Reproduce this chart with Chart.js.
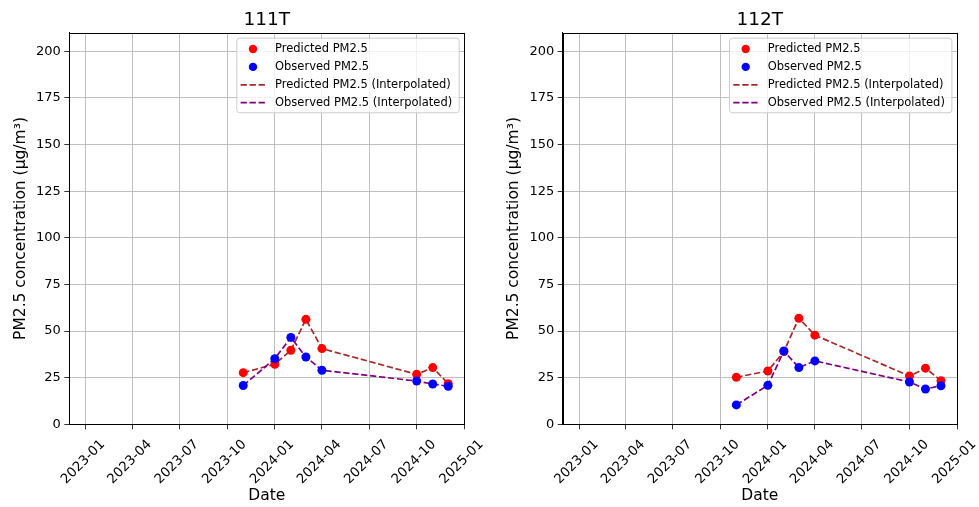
<!DOCTYPE html>
<html>
<head>
<meta charset="utf-8">
<script src="https://cdn.jsdelivr.net/npm/chart.js@4"></script>
<style>
  body { margin: 0; background: #fff; }
  .panel { position: absolute; top: 0; height: 507px; }
</style>
</head>
<body>
<div class="panel" style="left:0;width:490px"><canvas id="chart111"></canvas></div>
<div class="panel" style="left:490px;width:489px"><canvas id="chart112"></canvas></div>
<script>
// sample dates (month starts)
const dates = ['2023-11-01', '2024-01-01', '2024-02-01', '2024-03-01', '2024-04-01', '2024-10-01', '2024-11-01', '2024-12-01']

// 111T
const predicted111 = [27.7, 32.2, 39.7, 56.3, 40.6, 26.8, 30.4, 21.8]
const observed111 = [20.8, 35.2, 46.6, 36.1, 29.0, 23.2, 21.6, 20.4]

// 112T
const predicted112 = [25.2, 28.6, 39.0, 56.9, 47.8, 25.9, 30.1, 23.4]
const observed112 = [10.4, 20.9, 39.3, 30.4, 34.0, 22.7, 18.9, 20.7]

const xTickLabels = ['2023-01', '2023-04', '2023-07', '2023-10', '2024-01', '2024-04', '2024-07', '2024-10', '2025-01']
const yTicks = [0, 25, 50, 75, 100, 125, 150, 175, 200]
const xMinDate = '2022-11-30'
const xMaxDate = '2025-01-01'
const yMax = 210

const FONT = "'DejaVu Sans', sans-serif"

function toPoints(values) {
    return values.map((v, i) => ({ x: Date.parse(dates[i]), y: v }))
}

// draws the top/right spines and a matplotlib-like legend box
const frameAndLegend = {
    id: 'frameAndLegend',
    afterDraw(chart) {
        const { ctx, chartArea: a } = chart
        ctx.save()
        ctx.strokeStyle = '#000'
        ctx.lineWidth = 1
        ctx.strokeRect(Math.round(a.left) + 0.5, Math.round(a.top) + 0.5,
            Math.round(a.right) - Math.round(a.left), Math.round(a.bottom) - Math.round(a.top))

        const sets = chart.data.datasets
        ctx.font = `11.5px ${FONT}`
        const textW = Math.max(...sets.map(d => ctx.measureText(d.label).width))
        const boxW = 38.7 + textW + 6.5
        const boxH = 74.6
        const boxX = a.right - 5.6 - boxW
        const boxY = a.top + 5

        ctx.beginPath()
        ctx.roundRect(boxX + 0.5, boxY + 0.5, boxW, boxH, 3)
        ctx.fillStyle = 'rgba(255,255,255,0.8)'
        ctx.fill()
        ctx.strokeStyle = '#cccccc'
        ctx.stroke()

        sets.forEach((d, i) => {
            const cy = boxY + 11.3 + i * 17.9
            if (d.showLine) {
                ctx.beginPath()
                ctx.setLineDash(d.borderDash)
                ctx.strokeStyle = d.borderColor
                ctx.lineWidth = d.borderWidth
                ctx.moveTo(boxX + 4.3, cy)
                ctx.lineTo(boxX + 29.3, cy)
                ctx.stroke()
                ctx.setLineDash([])
            } else {
                ctx.beginPath()
                ctx.fillStyle = d.backgroundColor
                ctx.arc(boxX + 16.7, cy, 4.2, 0, Math.PI * 2)
                ctx.fill()
            }
            ctx.fillStyle = '#000'
            ctx.textBaseline = 'middle'
            ctx.textAlign = 'left'
            ctx.fillText(d.label, boxX + 38.7, cy)
        })
        ctx.restore()
    }
}

function makeChart(canvasId, title, predicted, observed, yAxisW, padRight, yTitlePad) {
    const ctx = document.getElementById(canvasId).getContext('2d')
    return new Chart(ctx, {
        type: 'scatter',
        data: {
            datasets: [
                {
                    label: 'Predicted PM2.5',
                    data: toPoints(predicted),
                    backgroundColor: 'red',
                    pointRadius: 4.5,
                    pointBorderWidth: 0,
                    showLine: false,
                    order: 1
                },
                {
                    label: 'Observed PM2.5',
                    data: toPoints(observed),
                    backgroundColor: 'blue',
                    pointRadius: 4.5,
                    pointBorderWidth: 0,
                    showLine: false,
                    order: 0
                },
                {
                    label: 'Predicted PM2.5 (Interpolated)',
                    data: toPoints(predicted),
                    borderColor: '#a52a2a',
                    borderWidth: 1.7,
                    borderDash: [6.3, 2.7],
                    pointRadius: 0,
                    showLine: true,
                    order: 3
                },
                {
                    label: 'Observed PM2.5 (Interpolated)',
                    data: toPoints(observed),
                    borderColor: '#800080',
                    borderWidth: 1.7,
                    borderDash: [6.3, 2.7],
                    pointRadius: 0,
                    showLine: true,
                    order: 2
                }
            ]
        },
        options: {
            responsive: true,
            maintainAspectRatio: false,
            animation: false,
            events: [],
            layout: { padding: { left: 0, right: padRight, top: 0, bottom: 0 } },
            plugins: {
                legend: { display: false },
                tooltip: { enabled: false },
                title: {
                    display: true,
                    text: title,
                    fullSize: false,
                    color: '#000',
                    font: { family: FONT, size: 18.5, weight: 'normal' },
                    padding: { top: 8.6, bottom: 1.9 }
                }
            },
            scales: {
                x: {
                    type: 'linear',
                    min: Date.parse(xMinDate),
                    max: Date.parse(xMaxDate),
                    afterBuildTicks: (scale) => {
                        scale.ticks = xTickLabels.map(l => ({ value: Date.parse(l + '-01') }))
                    },
                    afterFit: (scale) => { scale.height = 82.7 },
                    grid: { color: '#b0b0b0', lineWidth: 0.8, tickColor: '#000', tickLength: 5 },
                    border: { color: '#000', width: 1 },
                    ticks: {
                        autoSkip: false,
                        minRotation: 45,
                        maxRotation: 45,
                        padding: 7.5,
                        labelOffset: 17,
                        color: '#000',
                        font: { family: FONT, size: 13.3 },
                        callback: (v) => {
                            const d = new Date(v)
                            return d.getUTCFullYear() + '-' + String(d.getUTCMonth() + 1).padStart(2, '0')
                        }
                    },
                    title: {
                        display: true,
                        text: 'Date',
                        color: '#000',
                        font: { family: FONT, size: 15.5 },
                        padding: { top: 0, bottom: 2 }
                    }
                },
                y: {
                    min: 0,
                    max: yMax,
                    afterBuildTicks: (scale) => {
                        scale.ticks = yTicks.map(v => ({ value: v }))
                    },
                    afterFit: (scale) => { scale.width = yAxisW },
                    grid: { color: '#b0b0b0', lineWidth: 0.8, tickColor: '#000', tickLength: 5 },
                    border: { color: '#000', width: 1 },
                    ticks: {
                        padding: 3.5,
                        color: '#000',
                        font: { family: FONT, size: 13 }
                    },
                    title: {
                        display: true,
                        text: 'PM2.5 concentration (μg/m³)',
                        color: '#000',
                        font: { family: FONT, size: 15.5 },
                        padding: { top: yTitlePad, bottom: 0 }
                    }
                }
            }
        },
        plugins: [frameAndLegend]
    })
}

makeChart('chart111', '111T', predicted111, observed111, 69.3, 25.7, 11.7)
makeChart('chart112', '112T', predicted112, observed112, 72.7, 22, 15.1)
</script>
</body>
</html>
